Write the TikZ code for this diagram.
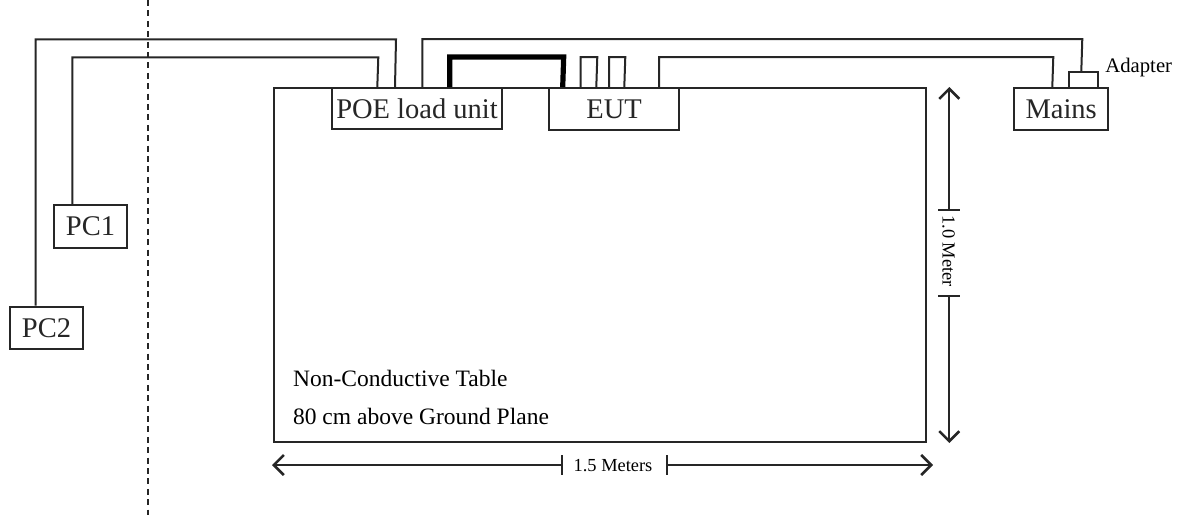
\documentclass[tikz,border=0pt]{standalone}
\usepackage{fontspec}
\setmainfont{Liberation Serif}
\usetikzlibrary{arrows.meta,calc}
\begin{document}
\begin{tikzpicture}[x=0.5pt,y=-0.5pt,
  wire/.style={line width=1pt,black!85},
  thickwire/.style={line width=2.6pt,black},
  devbox/.style={draw,line width=1pt,black!85,fill=white,inner sep=0pt,font=\fontsize{14.25}{16}\selectfont},
  tabletext/.style={inner sep=0pt,anchor=base west,font=\fontsize{11.75}{13}\selectfont},
  dimtext/.style={inner sep=0pt,font=\fontsize{9.2}{10}\selectfont},
  dimarrow/.style={line width=1pt,black!85,-{Straight Barb[length=5pt,width=10pt,line width=1.3pt]}},
  dimtick/.style={line width=1pt,black!85}]
\useasboundingbox (0,0) rectangle (1184,515);
% dashed separator
\draw[line width=1pt,black!85,dash pattern=on 3pt off 2.2pt] (148,0) -- (148,515);
% table
\node[draw,line width=1pt,black!85,inner sep=0pt,minimum width=326pt,minimum height=176.75pt] (table) at (600,264.75) {};
\node[tabletext] (t1) at (292.7,386.7) {Non-Conductive Table};
\node[tabletext] (t2) at (292.7,424) {80 cm above Ground Plane};
% boxes
\node[devbox,minimum width=85pt,minimum height=20.5pt] (poe) at (417,108.5) {POE load unit};
\node[devbox,minimum width=64.85pt,minimum height=21pt] (eut) at (614.15,109) {EUT};
\node[devbox,minimum width=47.15pt,minimum height=21pt] (mains) at (1061.15,109) {Mains};
\node[devbox,minimum width=14.5pt,minimum height=8pt] (adapter) at (1083.8,80.2) {};
\node[inner sep=0pt,anchor=west,font=\fontsize{10.35}{12}\selectfont] (adlabel) at (1105,68) {Adapter};
\node[devbox,minimum width=36.5pt,minimum height=21.35pt] (pc1) at (90.5,226.35) {PC1};
\node[devbox,minimum width=36.8pt,minimum height=21.15pt] (pc2) at (46.5,327.85) {PC2};
% wires
\draw[wire] ([xshift=13.5pt]pc2.north west) |- (396,39.3) -- ([xshift=32pt]poe.north west);
\draw[wire] ([xshift=9.65pt]pc1.north west) |- (378.3,57.3) -- ([xshift=23.15pt]poe.north west);
\draw[thickwire] ([xshift=59.35pt]poe.north west) |- (563.7,57) -- ([xshift=7.2pt]eut.north west);
\draw[wire] ([xshift=16.2pt]eut.north west) |- (597.3,57) -- ([xshift=24pt]eut.north west);
\draw[wire] ([xshift=30.35pt]eut.north west) |- (625.3,57) -- ([xshift=38pt]eut.north west);
\draw[wire] ([xshift=55.35pt]eut.north west) |- (1053.3,57) -- ([xshift=19.65pt]mains.north west);
\draw[wire] ([xshift=45.65pt]poe.north west) |- (1082.3,39) -- ([xshift=6.5pt]adapter.north west);
% vertical dimension
\coordinate (vt1) at (949.3,210);
\coordinate (vt2) at (949.3,296);
\coordinate (vtop) at (949.3,87);
\coordinate (vbot) at (949.3,443);
\draw[dimarrow] (vt1) -- (vtop);
\draw[dimarrow] (vt2) -- (vbot);
\draw[dimtick] ([xshift=-5.5pt]vt1) -- ([xshift=5.5pt]vt1);
\draw[dimtick] ([xshift=-5.5pt]vt2) -- ([xshift=5.5pt]vt2);
\node[dimtext,rotate=-90] (vlabel) at (948.5,251) {1.0 Meter};
% horizontal dimension
\coordinate (ht1) at (561.7,465);
\coordinate (ht2) at (666.7,465);
\coordinate (hleft) at (272,465);
\coordinate (hright) at (933,465);
\draw[dimarrow] (ht1) -- (hleft);
\draw[dimarrow] (ht2) -- (hright);
\draw[dimtick] ([yshift=5pt]ht1) -- ([yshift=-5pt]ht1);
\draw[dimtick] ([yshift=5pt]ht2) -- ([yshift=-5pt]ht2);
\node[dimtext] (hlabel) at (613,466) {1.5 Meters};
\end{tikzpicture}
\end{document}
